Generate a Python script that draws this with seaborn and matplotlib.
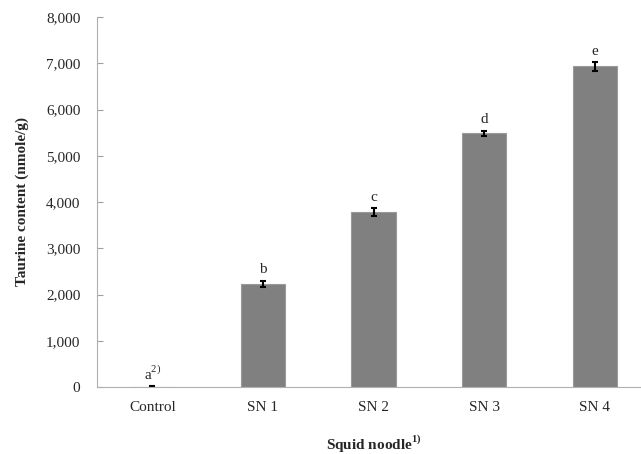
import numpy as np
import pandas as pd
import seaborn as sns
import matplotlib
matplotlib.use("Agg")
import matplotlib.pyplot as plt

# data
samples = ["Control", "SN 1", "SN 2", "SN 3", "SN 4"]
taurine = [8, 2230, 3780, 5490, 6930]
sd = [10, 70, 85, 55, 100]
letters = ["a$^{2)}$", "b", "c", "d", "e"]

df = pd.DataFrame({"sample": samples, "taurine": taurine})

sns.set_style("white")
plt.rcParams["font.family"] = ["Liberation Serif", "DejaVu Serif"]
plt.rcParams["mathtext.fontset"] = "custom"
plt.rcParams["mathtext.rm"] = "Liberation Serif"
plt.rcParams["mathtext.bf"] = "Liberation Serif:bold"

fig = plt.figure(figsize=(6.41, 4.54), dpi=100)
ax = fig.add_axes([97 / 641, 1 - 387 / 454, 553 / 641, 370 / 454])

sns.barplot(data=df, x="sample", y="taurine", color="#808080", width=0.4,
            errorbar=None, saturation=1, edgecolor="#9a9a9a", linewidth=0.8, ax=ax)
ax.errorbar(np.arange(len(samples)), taurine, yerr=sd, fmt="none",
            ecolor="black", elinewidth=1.5, capsize=2.5, capthick=1.5)

for i, lab in enumerate(letters):
    ax.annotate(lab, (i, taurine[i] + sd[i]), xytext=(0, 3), textcoords="offset points",
                ha="center", va="bottom", fontsize=11)

ax.set_xlim(-0.5, 4.5)
ax.set_ylim(0, 8000)
ax.set_yticks(np.arange(0, 8001, 1000))
ax.set_yticklabels([f"{v:,}" for v in range(0, 8001, 1000)])
ax.set_xticks(np.arange(-0.5, 5, 1), minor=True)
ax.tick_params(axis="x", which="major", length=0, labelsize=11, pad=10)
ax.tick_params(axis="x", which="minor", direction="in", length=4, color="#a0a0a0", width=0.8)
ax.tick_params(axis="y", direction="in", length=4, color="#a0a0a0", width=0.8,
               labelsize=11, left=True, pad=12)

for s in ["top", "right"]:
    ax.spines[s].set_visible(False)
for s in ["left", "bottom"]:
    ax.spines[s].set_color("#b0b0b0")
    ax.spines[s].set_linewidth(0.8)

ax.set_ylabel("Taurine content (nmole/g)", fontsize=11, fontweight="bold", labelpad=12)
ax.set_xlabel(r"Squid noodle$^{\mathbf{1)}}$", fontsize=11, fontweight="bold", labelpad=14)

fig.savefig("out.png", dpi=100)
